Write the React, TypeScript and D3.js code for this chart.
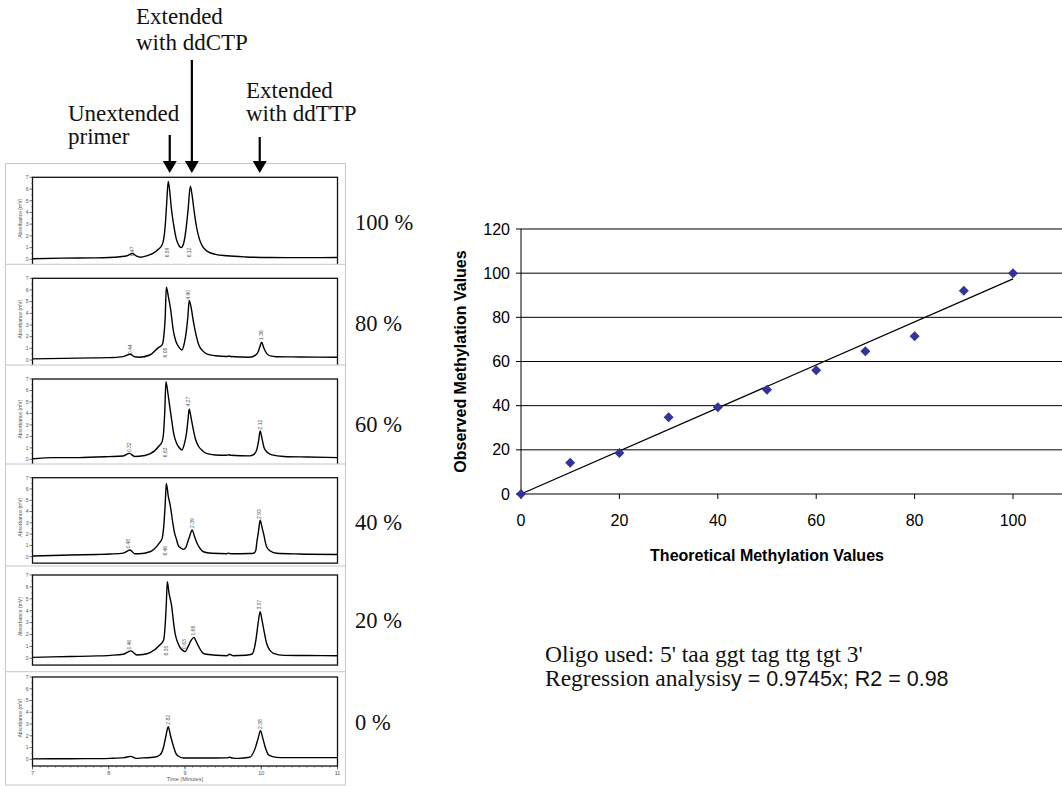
import React from "react";
import * as d3 from "d3";

type Pt = [number, number];

// ---------------- Chromatogram data ----------------
const TIME_TICKS = [7, 8, 9, 10, 11];
const ABS_TICKS = [0, 1, 2, 3, 4, 5, 6, 7];
const PERCENT_LABELS = ["100 %", "80 %", "60 %", "40 %", "20 %", "0 %"];

const trace100: Pt[] = [
  [7.0, 0.05], [7.4, 0.1], [7.8, 0.12], [8.0, 0.15], [8.15, 0.22], [8.24, 0.3], [8.31, 0.5], [8.36, 0.3],
  [8.41, 0.18], [8.5, 0.3], [8.58, 0.5], [8.65, 0.85], [8.7, 1.25], [8.72, 1.7], [8.74, 2.8], [8.76, 4.8],
  [8.78, 6.65], [8.8, 5.8], [8.82, 4.4], [8.85, 3.0], [8.88, 1.9], [8.91, 1.3], [8.95, 1.0], [8.98, 1.3],
  [9.01, 2.4], [9.04, 4.2], [9.07, 6.25], [9.09, 5.6], [9.12, 4.1], [9.15, 2.8], [9.19, 1.7], [9.23, 1.1],
  [9.3, 0.65], [9.4, 0.42], [9.55, 0.3], [9.8, 0.2], [10.1, 0.15], [10.5, 0.14], [11.0, 0.15],
];
const trace80: Pt[] = [
  [7.0, 0.1], [7.4, 0.14], [7.8, 0.18], [8.0, 0.2], [8.19, 0.29], [8.28, 0.49], [8.34, 0.28], [8.4, 0.24],
  [8.54, 0.43], [8.65, 1.06], [8.7, 1.3], [8.72, 1.9], [8.74, 3.6], [8.755, 6.23], [8.78, 5.5], [8.81, 4.4],
  [8.85, 2.4], [8.88, 1.6], [8.92, 1.1], [8.96, 0.86], [8.99, 1.4], [9.02, 2.6], [9.04, 3.9], [9.055, 5.1],
  [9.08, 4.5], [9.11, 3.3], [9.15, 2.0], [9.18, 1.3], [9.23, 0.8], [9.29, 0.5], [9.4, 0.36], [9.55, 0.3],
  [9.57, 0.34], [9.6, 0.3], [9.85, 0.24], [9.92, 0.4], [9.96, 0.7], [9.985, 1.2], [10.005, 1.53],
  [10.03, 1.1], [10.07, 0.57], [10.12, 0.35], [10.2, 0.28], [10.5, 0.26], [11.0, 0.23],
];
const trace60: Pt[] = [
  [7.0, 0.05], [7.27, 0.15], [7.6, 0.15], [8.0, 0.23], [8.19, 0.29], [8.27, 0.52], [8.34, 0.25], [8.4, 0.26],
  [8.54, 0.47], [8.66, 1.16], [8.7, 1.54], [8.72, 2.4], [8.735, 4.2], [8.75, 6.77], [8.775, 5.8], [8.8, 4.6],
  [8.83, 3.2], [8.85, 2.3], [8.89, 1.4], [8.92, 1.05], [8.96, 0.81], [8.99, 1.3], [9.02, 2.3], [9.04, 3.5],
  [9.055, 4.39], [9.08, 3.6], [9.11, 2.56], [9.14, 1.7], [9.175, 1.16], [9.23, 0.75], [9.28, 0.52],
  [9.4, 0.38], [9.55, 0.35], [9.57, 0.4], [9.6, 0.35], [9.85, 0.3], [9.9, 0.4], [9.94, 0.81], [9.965, 1.6],
  [9.985, 2.47], [10.01, 1.8], [10.04, 0.96], [10.09, 0.55], [10.14, 0.38], [10.3, 0.25], [10.6, 0.2],
  [11.0, 0.15],
];
const trace40: Pt[] = [
  [7.0, 0.06], [7.5, 0.15], [7.85, 0.2], [8.02, 0.24], [8.19, 0.32], [8.28, 0.59], [8.34, 0.26], [8.4, 0.26],
  [8.54, 0.44], [8.66, 1.18], [8.7, 1.62], [8.72, 2.6], [8.74, 4.6], [8.755, 6.49], [8.78, 5.4], [8.81, 4.4],
  [8.84, 3.0], [8.86, 2.2], [8.89, 1.5], [8.91, 1.03], [8.95, 0.75], [8.98, 0.65], [9.01, 0.8], [9.03, 1.18],
  [9.06, 1.8], [9.095, 2.36], [9.12, 1.9], [9.15, 1.33], [9.19, 0.8], [9.24, 0.44], [9.35, 0.3],
  [9.55, 0.26], [9.57, 0.32], [9.6, 0.26], [9.85, 0.28], [9.9, 0.3], [9.93, 0.6], [9.94, 1.18],
  [9.965, 2.3], [9.985, 3.24], [10.01, 2.6], [10.03, 2.06], [10.07, 0.88], [10.12, 0.5], [10.2, 0.3],
  [10.5, 0.24], [11.0, 0.2],
];
const trace20: Pt[] = [
  [7.0, 0.08], [7.5, 0.15], [7.85, 0.2], [8.02, 0.25], [8.19, 0.34], [8.29, 0.62], [8.37, 0.28], [8.45, 0.32],
  [8.54, 0.48], [8.67, 1.12], [8.72, 1.54], [8.74, 2.8], [8.755, 4.6], [8.768, 6.44], [8.79, 5.5],
  [8.826, 4.34], [8.85, 3.0], [8.87, 2.1], [8.9, 1.4], [8.934, 0.92], [8.98, 0.62], [9.0, 0.56], [9.04, 0.98],
  [9.08, 1.5], [9.118, 1.76], [9.14, 1.5], [9.175, 1.04], [9.22, 0.55], [9.26, 0.36], [9.4, 0.26],
  [9.55, 0.22], [9.58, 0.34], [9.63, 0.22], [9.8, 0.26], [9.875, 0.34], [9.9, 0.6], [9.93, 1.54],
  [9.96, 3.0], [9.985, 3.92], [10.01, 3.2], [10.03, 2.52], [10.07, 1.26], [10.11, 0.7], [10.16, 0.42],
  [10.3, 0.25], [10.6, 0.23], [11.0, 0.22],
];
const trace0: Pt[] = [
  [7.0, 0.04], [7.5, 0.05], [7.9, 0.06], [8.02, 0.08], [8.2, 0.14], [8.29, 0.25], [8.36, 0.08], [8.45, 0.12],
  [8.59, 0.17], [8.67, 0.37], [8.72, 1.07], [8.75, 2.0], [8.78, 2.77], [8.81, 2.0], [8.85, 1.07], [8.88, 0.5],
  [8.91, 0.28], [8.98, 0.11], [9.4, 0.11], [9.55, 0.12], [9.58, 0.17], [9.63, 0.1], [9.7, 0.08],
  [9.85, 0.17], [9.92, 0.93], [9.96, 1.8], [9.99, 2.43], [10.02, 1.8], [10.05, 1.07], [10.1, 0.35],
  [10.2, 0.16], [10.3, 0.14], [11.0, 0.14],
];
const TRACES = [trace100, trace80, trace60, trace40, trace20, trace0];

type PeakLabel = { t: number; v: number; label: string };
const peaks100: PeakLabel[] = [
  { t: 8.314, v: 0.67, label: "0.47" }, { t: 8.773, v: 0.58, label: "6.59" }, { t: 9.052, v: 0.58, label: "6.12" },
];
const peaks80: PeakLabel[] = [
  { t: 8.279, v: 0.92, label: "0.44" }, { t: 8.742, v: 0.63, label: "6.06" },
  { t: 9.048, v: 5.59, label: "4.90" }, { t: 10.006, v: 2.14, label: "1.36" },
];
const peaks60: PeakLabel[] = [
  { t: 8.27, v: 1.05, label: "0.32" }, { t: 8.742, v: 0.61, label: "6.63" },
  { t: 9.048, v: 5.02, label: "4.27" }, { t: 9.984, v: 3.02, label: "2.12" },
];
const peaks40: PeakLabel[] = [
  { t: 8.262, v: 1.15, label: "0.48" }, { t: 8.738, v: 0.53, label: "6.46" },
  { t: 9.092, v: 2.98, label: "2.39" }, { t: 9.975, v: 3.78, label: "2.93" },
];
const peaks20: PeakLabel[] = [
  { t: 8.27, v: 1.14, label: "0.46" }, { t: 8.76, v: 0.64, label: "6.35" }, { t: 8.99, v: 1.2, label: "0.63" },
  { t: 9.109, v: 2.32, label: "1.66" }, { t: 9.97, v: 4.5, label: "3.57" },
];
const peaks0: PeakLabel[] = [
  { t: 8.781, v: 3.36, label: "2.82" }, { t: 9.984, v: 2.99, label: "2.38" },
];
const PEAKS = [peaks100, peaks80, peaks60, peaks40, peaks20, peaks0];

// arrows (retention time each arrow points at)
const ARROW_TIMES = [8.8, 9.09, 9.98];

// ---------------- Scatter data ----------------
const THEORETICAL = [0, 10, 20, 30, 40, 50, 60, 70, 80, 90, 100];
const OBSERVED = [0, 14.2, 18.6, 34.8, 39.3, 47.2, 56, 64.6, 71.4, 92, 100];
const X_TICKS = [0, 20, 40, 60, 80, 100];
const Y_TICKS = [0, 20, 40, 60, 80, 100, 120];
const SLOPE = 0.9745;

// ---------------- Layout (positions) ----------------
const PANEL_LAYOUT = [
  { frameTop: 163.5, innerTop: 177.3, zeroY: 259.3 },
  { frameTop: 264.3, innerTop: 278.3, zeroY: 360 },
  { frameTop: 365, innerTop: 379, zeroY: 459.3 },
  { frameTop: 464, innerTop: 477.7, zeroY: 556.7 },
  { frameTop: 566, innerTop: 575, zeroY: 658.3 },
  { frameTop: 671.7, innerTop: 677, zeroY: 759.3 },
];

const SERIF = "'Liberation Serif', 'Times New Roman', serif";
const SANS = "'Liberation Sans', Arial, Helvetica, sans-serif";

function Panel({ idx }: { idx: number }) {
  const L = PANEL_LAYOUT[idx];
  const xs = d3.scaleLinear().domain([7, 11]).range([32.5, 337.5]);
  const ys = d3.scaleLinear().domain([0, 7]).range([L.zeroY, L.innerTop]);
  const x0 = xs(7), x1 = xs(11);
  const yTop = ys(7), yBot = ys(-0.57);
  const isLast = idx === PANEL_LAYOUT.length - 1;
  const frameH = isLast ? 785 - L.frameTop : 130;
  const lineGen = d3.line<Pt>().x((d) => xs(d[0])).y((d) => ys(d[1])).curve(d3.curveMonotoneX);
  const minor = xs.ticks(40);
  const clipId = `pclip${idx}`;
  return (
    <g>
      <rect x={5.5} y={L.frameTop} width={340} height={frameH} fill="#fff" stroke="#c8c8c8" strokeWidth={1} />
      <defs>
        <clipPath id={clipId}>
          <rect x={x0} y={yTop} width={x1 - x0} height={yBot - yTop} />
        </clipPath>
      </defs>
      <path d={lineGen(TRACES[idx]) || ""} fill="none" stroke="#000" strokeWidth={1.4} clipPath={`url(#${clipId})`} />
      <rect x={x0} y={yTop} width={x1 - x0} height={yBot - yTop} fill="none" stroke="#111" strokeWidth={1.3} />
      {ABS_TICKS.map((v) => (
        <g key={v}>
          <line x1={x0 - 3} x2={x0} y1={ys(v)} y2={ys(v)} stroke="#333" strokeWidth={0.7} />
          <text x={x0 - 4} y={ys(v) + 1.8} textAnchor="end" fontSize={5} fontFamily={SANS} fill="#555">{v}</text>
        </g>
      ))}
      {ABS_TICKS.slice(0, -1).map((v) => (
        <line key={`m${v}`} x1={x0 - 1.5} x2={x0} y1={ys(v + 0.5)} y2={ys(v + 0.5)} stroke="#555" strokeWidth={0.5} />
      ))}
      <text
        transform={`translate(${x0 - 10.5},${(L.innerTop + L.zeroY) / 2}) rotate(-90)`}
        textAnchor="middle" fontSize={5} fontFamily={SANS} fill="#555"
      >Absorbance (mV)</text>
      {PEAKS[idx].map((p, k) => (
        <text key={k}
          transform={`translate(${xs(p.t) + 1.6},${ys(p.v)}) rotate(-90)`}
          textAnchor="middle" fontSize={5} fontFamily={SANS} fill="#555"
        >{p.label}</text>
      ))}
      {isLast && (
        <g>
          {minor.map((t, k) => (
            <line key={k} x1={xs(t)} x2={xs(t)} y1={yBot} y2={yBot + 1.8} stroke="#444" strokeWidth={0.5} />
          ))}
          {TIME_TICKS.map((t) => (
            <g key={t}>
              <line x1={xs(t)} x2={xs(t)} y1={yBot} y2={yBot + 3.5} stroke="#222" strokeWidth={0.7} />
              <text x={xs(t)} y={yBot + 8.5} textAnchor="middle" fontSize={5.5} fontFamily={SANS} fill="#555">{t}</text>
            </g>
          ))}
          <text x={(x0 + x1) / 2} y={yBot + 14.5} textAnchor="middle" fontSize={5.5} fontFamily={SANS} fill="#555">Time (Minutes)</text>
        </g>
      )}
      <text x={355} y={L.innerTop + 52.5} fontSize={22.5} fontFamily={SERIF} fill="#111">{PERCENT_LABELS[idx]}</text>
    </g>
  );
}

function Arrow({ x, top, tip }: { x: number; top: number; tip: number }) {
  return (
    <g>
      <line x1={x} x2={x} y1={top} y2={tip - 10} stroke="#000" strokeWidth={2.2} />
      <polygon points={`${x - 7},${tip - 12} ${x + 7},${tip - 12} ${x},${tip}`} fill="#000" />
    </g>
  );
}

function Scatter() {
  const xs = d3.scaleLinear().domain([0, 100]).range([521, 1013]);
  const ys = d3.scaleLinear().domain([0, 120]).range([494, 229]);
  const right = 1062;
  const diamond = d3.symbol().type(d3.symbolSquare).size(50)() || "";
  return (
    <g>
      {Y_TICKS.filter((v) => v > 0).map((v) => (
        <line key={v} x1={xs(0)} x2={right} y1={ys(v)} y2={ys(v)} stroke="#000" strokeWidth={1} />
      ))}
      {Y_TICKS.map((v) => (
        <g key={`t${v}`}>
          <line x1={xs(0) - 5} x2={xs(0)} y1={ys(v)} y2={ys(v)} stroke="#000" strokeWidth={1} />
          <text x={xs(0) - 11} y={ys(v) + 5.5} textAnchor="end" fontSize={16} fontFamily={SANS} fill="#000">{v}</text>
        </g>
      ))}
      <line x1={xs(0)} x2={xs(0)} y1={ys(120)} y2={ys(0)} stroke="#000" strokeWidth={1} />
      <line x1={xs(0)} x2={right} y1={ys(0)} y2={ys(0)} stroke="#000" strokeWidth={1} />
      {X_TICKS.map((v) => (
        <g key={`x${v}`}>
          <line x1={xs(v)} x2={xs(v)} y1={ys(0)} y2={ys(0) + 5} stroke="#000" strokeWidth={1} />
          <text x={xs(v)} y={ys(0) + 32} textAnchor="middle" fontSize={16} fontFamily={SANS} fill="#000">{v}</text>
        </g>
      ))}
      <line x1={xs(0)} y1={ys(0)} x2={xs(100)} y2={ys(SLOPE * 100)} stroke="#000" strokeWidth={1.3} />
      {THEORETICAL.map((t, i) => (
        <path key={i} d={diamond} transform={`translate(${xs(t)},${ys(OBSERVED[i])}) rotate(45)`} fill="#333399" />
      ))}
      <text transform={`translate(${466},${(ys(0) + ys(120)) / 2}) rotate(-90)`} textAnchor="middle"
        fontSize={16} fontWeight="bold" fontFamily={SANS} fill="#000">Observed Methylation Values</text>
      <text x={(xs(0) + xs(100)) / 2} y={561} textAnchor="middle" fontSize={16} fontWeight="bold"
        fontFamily={SANS} fill="#000">Theoretical Methylation Values</text>
    </g>
  );
}

export default function App() {
  const xs = d3.scaleLinear().domain([7, 11]).range([32.5, 337.5]);
  const arrowTops = [135, 60, 137];
  return (
    <svg width={1062} height={786} style={{ position: "absolute", left: 0, top: 0, background: "#fff" }}>
      <rect x={0} y={0} width={1062} height={786} fill="#fff" />
      {/* annotation labels */}
      <g fontFamily={SERIF} fontSize={23} fill="#111">
        <text x={136} y={24}>Extended</text>
        <text x={136} y={50}>with ddCTP</text>
        <text x={68} y={120.5}>Unextended</text>
        <text x={68} y={144}>primer</text>
        <text x={246} y={98}>Extended</text>
        <text x={246} y={121}>with ddTTP</text>
      </g>
      {PANEL_LAYOUT.map((_, i) => (
        <Panel key={i} idx={i} />
      ))}
      {ARROW_TIMES.map((t, i) => (
        <Arrow key={i} x={xs(t)} top={arrowTops[i]} tip={173} />
      ))}
      <Scatter />
      <text x={545} y={662} fontSize={23.5} fontFamily={SERIF} fill="#111">Oligo used: 5' taa ggt tag ttg tgt 3'</text>
      <text x={545} y={686} fontSize={23.5} fontFamily={SERIF} fill="#111">
        Regression analysis
        <tspan fontFamily={SANS} fontSize={21.5}>y = 0.9745x; R2 = 0.98</tspan>
      </text>
    </svg>
  );
}
